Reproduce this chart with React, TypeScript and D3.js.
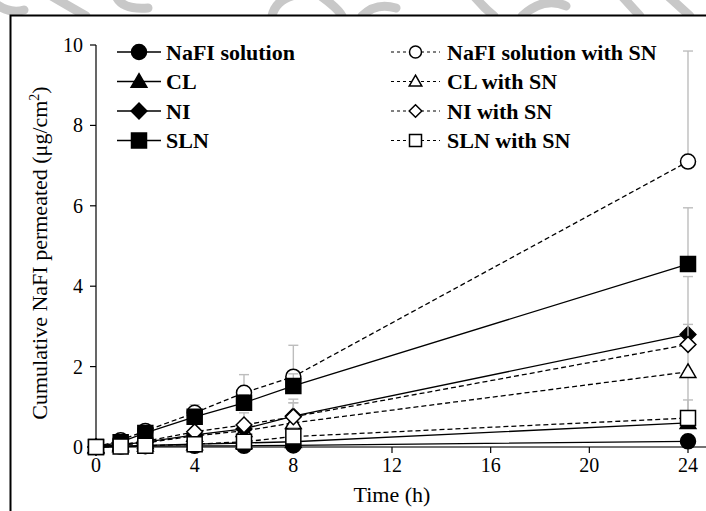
import React from "react";
import * as d3 from "d3";

// Sampling times (h)
const times = [0, 1, 2, 4, 6, 8, 24];

// Cumulative NaFI permeated (µg/cm²) per formulation
const nafiSolution = [0, 0.01, 0.02, 0.03, 0.03, 0.04, 0.14];
const nafiSolutionSN = [0, 0.17, 0.4, 0.85, 1.35, 1.75, 7.1];
const cl = [0, 0.02, 0.04, 0.07, 0.1, 0.13, 0.6];
const clSN = [0, 0.05, 0.1, 0.28, 0.4, 0.6, 1.87];
const ni = [0, 0.06, 0.12, 0.3, 0.45, 0.77, 2.8];
const niSN = [0, 0.06, 0.14, 0.38, 0.55, 0.75, 2.55];
const sln = [0, 0.12, 0.35, 0.75, 1.1, 1.52, 4.55];
const slnSN = [0, 0.01, 0.03, 0.07, 0.13, 0.26, 0.72];

// Standard deviations (upper error bars)
const nafiSolutionErr = [0, 0.01, 0.01, 0.02, 0.02, 0.03, 0.1];
const nafiSolutionSNErr = [0, 0.05, 0.08, 0.2, 0.45, 0.78, 2.75];
const clErr = [0, 0.01, 0.02, 0.04, 0.08, 0.1, 1.3];
const clSNErr = [0, 0.02, 0.05, 0.1, 0.2, 0.5, 0.7];
const niErr = [0, 0.02, 0.05, 0.1, 0.2, 0.42, 1.44];
const niSNErr = [0, 0.02, 0.05, 0.1, 0.3, 0.35, 0.5];
const slnErr = [0, 0.03, 0.05, 0.1, 0.2, 0.3, 1.4];
const slnSNErr = [0, 0.01, 0.02, 0.05, 0.1, 0.2, 0.45];

const xTicks = [0, 4, 8, 12, 16, 20, 24];
const yTicks = [0, 2, 4, 6, 8, 10];

type Shape = "circle" | "triangle" | "diamond" | "square";

interface Series {
  name: string;
  values: number[];
  errors: number[];
  shape: Shape;
  filled: boolean;
}

// Drawing order: alternating plain / with SN
const series: Series[] = [
  { name: "NaFI solution", values: nafiSolution, errors: nafiSolutionErr, shape: "circle", filled: true },
  { name: "NaFI solution with SN", values: nafiSolutionSN, errors: nafiSolutionSNErr, shape: "circle", filled: false },
  { name: "CL", values: cl, errors: clErr, shape: "triangle", filled: true },
  { name: "CL with SN", values: clSN, errors: clSNErr, shape: "triangle", filled: false },
  { name: "NI", values: ni, errors: niErr, shape: "diamond", filled: true },
  { name: "NI with SN", values: niSN, errors: niSNErr, shape: "diamond", filled: false },
  { name: "SLN", values: sln, errors: slnErr, shape: "square", filled: true },
  { name: "SLN with SN", values: slnSN, errors: slnSNErr, shape: "square", filled: false },
];

const W = 706;
const H = 511;
const x = d3.scaleLinear().domain([0, 24]).range([96, 688]);
const y = d3.scaleLinear().domain([0, 10]).range([447, 45]);

const SERIF = "'Liberation Serif', 'Times New Roman', serif";

function markerPath(shape: Shape, s: number): string {
  switch (shape) {
    case "circle":
      return d3.symbol(d3.symbolCircle, Math.PI * s * s)()!;
    case "square":
      return `M${-s},${-s}H${s}V${s}H${-s}Z`;
    case "triangle":
      return `M0,${-s * 1.05}L${s * 1.05},${s * 0.75}L${-s * 1.05},${s * 0.75}Z`;
    case "diamond":
      return `M0,${-s * 1.05}L${s * 1.05},0L0,${s * 1.05}L${-s * 1.05},0Z`;
  }
}

function Marker({ shape, filled, cx, cy, s }: { shape: Shape; filled: boolean; cx: number; cy: number; s: number }) {
  return (
    <path
      d={markerPath(shape, s)}
      transform={`translate(${cx},${cy})`}
      fill={filled ? "#000" : "#fff"}
      stroke="#000"
      strokeWidth={1.5}
    />
  );
}

export default function App() {
  const line = d3
    .line<number>()
    .x((_, i) => x(times[i]))
    .y((v) => y(v));

  const legendLeft = series.filter((_, i) => i % 2 === 0);
  const legendRight = series.filter((_, i) => i % 2 === 1);
  const rowY = (i: number) => 52 + i * 29.5;

  return (
    <svg
      width={W}
      height={H}
      style={{ position: "absolute", left: 0, top: 0, display: "block", background: "#fff" }}
      fontFamily={SERIF}
    >
      {/* background mark strip above the frame */}
      <g stroke="#c8c8c8" strokeWidth={9} fill="none" strokeLinecap="round">
        <path d="M-4,4 Q10,14 24,10" />
        <path d="M48,-6 L86,16" />
        <path d="M116,-4 Q122,10 148,8" />
        <path d="M272,16 Q276,-2 300,-6" />
        <path d="M318,-6 Q338,8 342,16" />
        <path d="M362,16 Q376,2 396,8" />
        <path d="M474,-4 Q484,8 494,16" />
        <path d="M522,16 Q544,-4 566,6" />
        <path d="M620,-6 L640,16" />
        <path d="M668,-4 L690,16" />
      </g>
      <rect x={10.5} y={15.5} width={W} height={H} fill="#fff" stroke="none" />

      {/* frame */}
      <path d={`M10.5,${H + 2}V15.5H${W + 2}`} fill="none" stroke="#000" strokeWidth={2} />

      {/* axes */}
      <line x1={x(0)} x2={x(0)} y1={y(0)} y2={y(10)} stroke="#000" strokeWidth={1.2} />
      <line x1={x(0)} x2={W} y1={y(0)} y2={y(0)} stroke="#444" strokeWidth={1.5} />
      {yTicks.map((t) => (
        <g key={`yt${t}`}>
          <line x1={x(0) - 6} x2={x(0)} y1={y(t)} y2={y(t)} stroke="#000" strokeWidth={1.2} />
          <text x={x(0) - 13} y={y(t)} dy="0.35em" textAnchor="end" fontSize={20}>
            {t}
          </text>
        </g>
      ))}
      {xTicks.map((t) => (
        <g key={`xt${t}`}>
          <line x1={x(t)} x2={x(t)} y1={y(0)} y2={y(0) + 6} stroke="#000" strokeWidth={1.2} />
          <text x={x(t)} y={y(0) + 25} textAnchor="middle" fontSize={20}>
            {t}
          </text>
        </g>
      ))}

      {/* axis titles */}
      <text x={392} y={502} textAnchor="middle" fontSize={22}>
        Time (h)
      </text>
      <text transform="translate(47,253) rotate(-90)" textAnchor="middle" fontSize={22}>
        Cumulative NaFI permeated (μg/cm
        <tspan fontSize={14} dy={-8}>2</tspan>
        <tspan dy={8}>)</tspan>
      </text>

      {/* series: error bars, line, markers */}
      {series.map((s) => (
        <g key={s.name}>
          <g stroke="#bdbdbd" strokeWidth={1.4}>
            {s.values.map((v, i) =>
              s.errors[i] > 0 ? (
                <g key={i}>
                  <line x1={x(times[i])} x2={x(times[i])} y1={y(v)} y2={y(v + s.errors[i])} />
                  <line
                    x1={x(times[i]) - 5}
                    x2={x(times[i]) + 5}
                    y1={y(v + s.errors[i])}
                    y2={y(v + s.errors[i])}
                  />
                </g>
              ) : null
            )}
          </g>
          <path
            d={line(s.values)!}
            fill="none"
            stroke="#000"
            strokeWidth={1.3}
            strokeDasharray={s.filled ? undefined : "5,3"}
          />
          {s.values.map((v, i) => (
            <Marker key={i} shape={s.shape} filled={s.filled} cx={x(times[i])} cy={y(v)} s={7.5} />
          ))}
        </g>
      ))}

      {/* legend */}
      {legendLeft.map((s, i) => (
        <g key={s.name}>
          <line x1={117} x2={161} y1={rowY(i)} y2={rowY(i)} stroke="#000" strokeWidth={1.5} />
          <Marker shape={s.shape} filled={s.filled} cx={139} cy={rowY(i)} s={7.5} />
          <text x={166} y={rowY(i)} dy="0.35em" fontSize={22} fontWeight="bold">
            {s.name}
          </text>
        </g>
      ))}
      {legendRight.map((s, i) => (
        <g key={s.name}>
          <line
            x1={391}
            x2={440}
            y1={rowY(i)}
            y2={rowY(i)}
            stroke="#000"
            strokeWidth={1}
            strokeDasharray="3,3"
          />
          <Marker shape={s.shape} filled={s.filled} cx={415.5} cy={rowY(i)} s={6} />
          <text x={447} y={rowY(i)} dy="0.35em" fontSize={22} fontWeight="bold">
            {s.name}
          </text>
        </g>
      ))}
    </svg>
  );
}
